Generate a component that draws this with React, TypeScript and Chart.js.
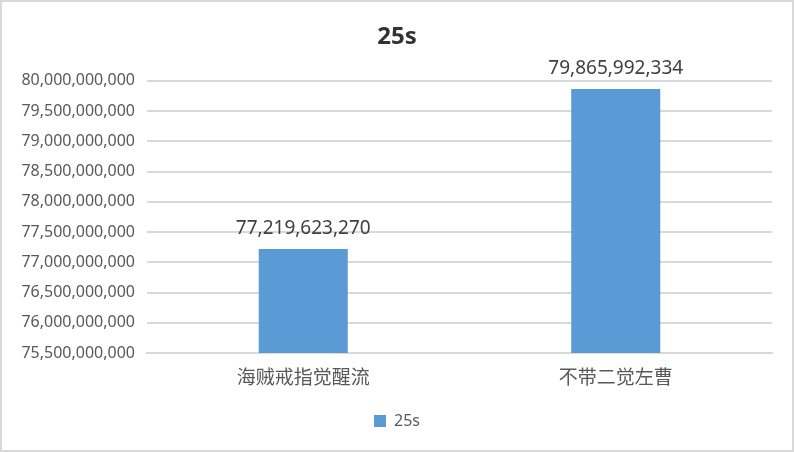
import { useEffect, useRef } from 'react';
import { Chart, registerables } from 'chart.js';

Chart.register(...registerables);

const categories = ['海贼戒指觉醒流', '不带二觉左曹'];
const seriesName = '25s';
const values = [77219623270, 79865992334];
const yMin = 75500000000;
const yMax = 80000000000;
const yStep = 500000000;

const fmt = (v: number) => v.toLocaleString('en-US');

// draws the numbers above each bar and the frame round the chart
const labelsPlugin = {
  id: 'barLabels',
  afterDatasetsDraw(chart: any) {
    const ctx = chart.ctx;
    const meta = chart.getDatasetMeta(0);
    ctx.save();
    ctx.font = '19px "Noto Sans", sans-serif';
    ctx.fillStyle = '#404040';
    ctx.textAlign = 'center';
    ctx.textBaseline = 'bottom';
    meta.data.forEach((bar: any, i: number) => {
      ctx.fillText(fmt(values[i]), bar.x, bar.y - 11);
    });
    ctx.restore();
  },
  afterDraw(chart: any) {
    const ctx = chart.ctx;
    ctx.save();
    ctx.strokeStyle = '#d9d9d9';
    ctx.lineWidth = 2;
    ctx.strokeRect(1, 1, chart.width - 2, chart.height - 2);
    ctx.restore();
  },
};

export default function App() {
  const canvasRef = useRef<HTMLCanvasElement>(null);
  const chartRef = useRef<Chart | null>(null);

  useEffect(() => {
    document.body.style.margin = '0';
    if (!canvasRef.current) return;
    if (chartRef.current) chartRef.current.destroy();

    chartRef.current = new Chart(canvasRef.current, {
      type: 'bar',
      data: {
        labels: categories,
        datasets: [
          {
            label: seriesName,
            data: values,
            backgroundColor: '#5b9bd5',
            categoryPercentage: 1,
            barPercentage: 0.285,
          },
        ],
      },
      options: {
        animation: false,
        responsive: false,
        layout: { padding: { left: 22, right: 22, top: 0, bottom: 13 } },
        scales: {
          x: {
            grid: { display: false },
            border: { color: '#d9d9d9', width: 2 },
            ticks: {
              color: '#595959',
              font: { family: '"Noto Sans CJK SC", sans-serif', size: 19 },
              padding: 4,
            },
            afterFit: (s: any) => {
              s.height = 50;
            },
          },
          y: {
            min: yMin,
            max: yMax,
            grid: { color: '#d9d9d9', lineWidth: 2, drawTicks: false },
            border: { display: false },
            ticks: {
              stepSize: yStep,
              color: '#595959',
              font: { family: '"Noto Sans", sans-serif', size: 16 },
              padding: 12,
              callback: (v: any) => fmt(Number(v)),
            },
            afterFit: (s: any) => {
              s.width = 125;
            },
          },
        },
        plugins: {
          title: {
            display: true,
            text: seriesName,
            color: '#333333',
            font: { family: '"Noto Sans", sans-serif', size: 24, weight: 'bold' },
            padding: { top: 23, bottom: 29 },
          },
          legend: {
            position: 'bottom',
            labels: {
              color: '#595959',
              font: { family: '"Noto Sans", sans-serif', size: 16 },
              boxWidth: 12,
              boxHeight: 12,
              padding: 10,
            },
          },
          tooltip: { enabled: false },
        },
      },
      plugins: [labelsPlugin],
    });

    return () => {
      if (chartRef.current) {
        chartRef.current.destroy();
        chartRef.current = null;
      }
    };
  }, []);

  return (
    <div style={{ position: 'absolute', left: 0, top: 0, width: 794, height: 452 }}>
      <canvas ref={canvasRef} width={794} height={452} style={{ width: 794, height: 452 }}></canvas>
    </div>
  );
}
